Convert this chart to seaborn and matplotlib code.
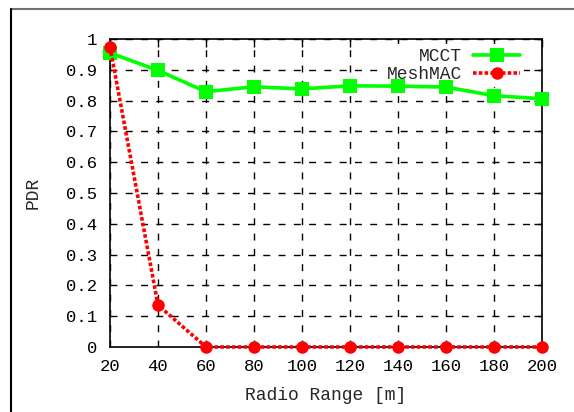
import matplotlib
matplotlib.use("Agg")
import matplotlib.pyplot as plt
import pandas as pd
import seaborn as sns
from matplotlib.lines import Line2D

RANGES = [20, 40, 60, 80, 100, 120, 140, 160, 180, 200]
MCCT = [0.955, 0.898, 0.829, 0.845, 0.838, 0.848, 0.847, 0.844, 0.816, 0.806]
MESHMAC = [0.975, 0.136, 0.0, 0.0, 0.0, 0.0, 0.0, 0.0, 0.0, 0.0]
Y_TICKS = [0, 0.1, 0.2, 0.3, 0.4, 0.5, 0.6, 0.7, 0.8, 0.9, 1]
Y_LABELS = ["0", "0.1", "0.2", "0.3", "0.4", "0.5", "0.6", "0.7", "0.8", "0.9", "1"]

sns.set_style("white")
plt.rcParams["font.family"] = ["Liberation Mono", "DejaVu Sans Mono"]

df = pd.DataFrame({"Radio Range": RANGES, "MCCT": MCCT, "MeshMAC": MESHMAC})

fig = plt.figure(figsize=(5.74, 4.12), dpi=100)
ax = fig.add_axes([0.1916, 0.1578, 0.7527, 0.7475])

sns.lineplot(data=df, x="Radio Range", y="MCCT", ax=ax, color="#00ff00",
             linewidth=2.6, marker="s", markersize=10, markeredgewidth=0,
             label="MCCT", zorder=3, clip_on=False)
sns.lineplot(data=df, x="Radio Range", y="MeshMAC", ax=ax, color="#ff0000",
             linewidth=2.6, linestyle=(0, (1, 0.6)), marker="o", markersize=9,
             markeredgewidth=0, label="MeshMAC", zorder=4, clip_on=False)

ax.set_xlim(20, 200)
ax.set_ylim(0, 1)
ax.set_xticks(RANGES)
ax.set_xticklabels([str(r) for r in RANGES])
ax.set_yticks(Y_TICKS)
ax.set_yticklabels(Y_LABELS)
ax.grid(True, color="black", linestyle=(0, (5, 6)), linewidth=1.0)
ax.tick_params(direction="in", length=6, width=1, top=True, right=True,
               labelsize=12.4, pad=9, colors="black")
for s in ax.spines.values():
    s.set_color("black")
    s.set_linewidth(1.2)
ax.set_xlabel("Radio Range [m]", fontsize=13, labelpad=9)
ax.set_ylabel("PDR", fontsize=13, labelpad=18)

leg = ax.legend(loc="upper right", bbox_to_anchor=(0.97, 1.0), frameon=True,
                markerfirst=False, fontsize=13, handlelength=2.6,
                handletextpad=0.6, labelspacing=0.05, borderaxespad=0.3,
                borderpad=0.2, facecolor="white", edgecolor="none",
                framealpha=1, fancybox=False)
leg.set_zorder(2.5)

# outer page frame
fig.add_artist(Line2D([11 / 574, 1], [1 - 9 / 412, 1 - 9 / 412],
                      color="#707070", linewidth=1.5, transform=fig.transFigure))
fig.add_artist(Line2D([11 / 574, 11 / 574], [0, 1 - 9 / 412],
                      color="black", linewidth=1.5, transform=fig.transFigure))

fig.savefig("out.png", dpi=100)
